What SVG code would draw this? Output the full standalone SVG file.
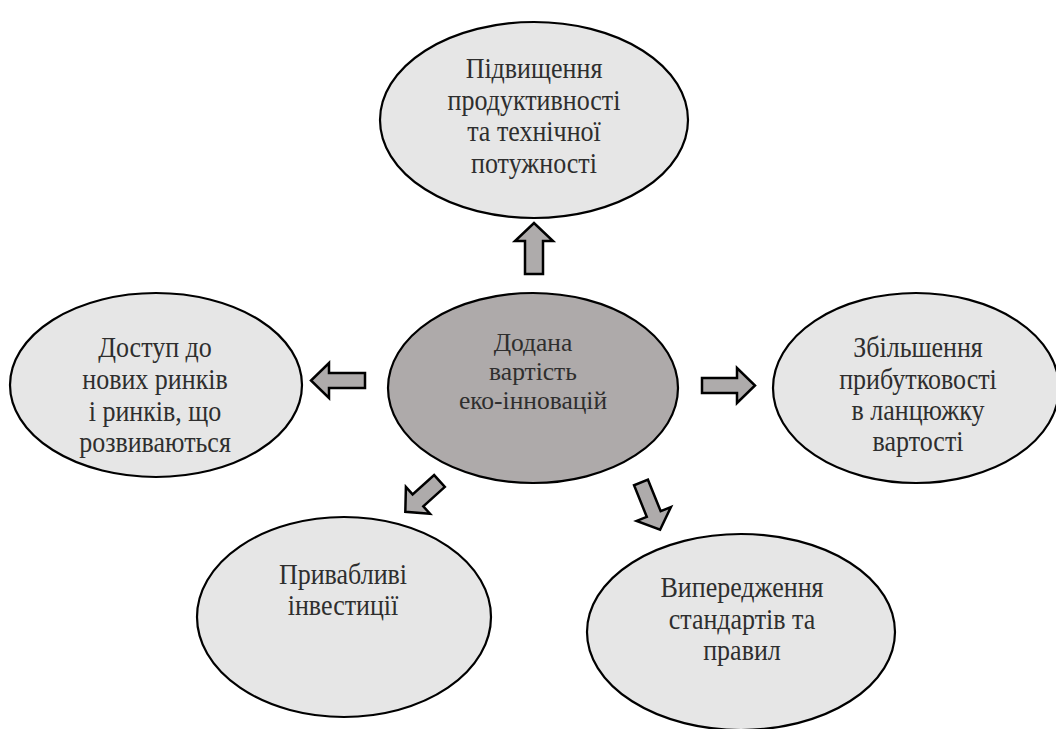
<svg xmlns="http://www.w3.org/2000/svg" width="1056" height="729" viewBox="0 0 1056 729">
<style>
.node ellipse{fill:#e6e6e6;stroke:#000;stroke-width:2.2}
#center ellipse{fill:#aeaaaa}
text{font-family:'Liberation Serif','Times New Roman',serif;font-size:26px;fill:#2e2e2e;text-anchor:middle}
#center text{font-size:25.5px}
.arrow{fill:#aeabab;stroke:#000;stroke-width:2.5;stroke-linejoin:miter}
</style>
<rect width="1056" height="729" fill="#fff"/>
<g id="connectors">
<path class="arrow" transform="translate(534,274) rotate(-90)" d="M0,-9 L33,-9 L33,-19 L51,0 L33,19 L33,9 L0,9 Z"/>
<path class="arrow" transform="translate(365,380.5) rotate(180)" d="M0,-7.5 L36,-7.5 L36,-17.5 L54,0 L36,17.5 L36,7.5 L0,7.5 Z"/>
<path class="arrow" transform="translate(702,385.5)" d="M0,-7.5 L35,-7.5 L35,-17.5 L53,0 L35,17.5 L35,7.5 L0,7.5 Z"/>
<path class="arrow" transform="translate(439.5,481) rotate(138)" d="M0,-8 L29,-8 L29,-18 L46,0 L29,18 L29,8 L0,8 Z"/>
<path class="arrow" transform="translate(641,482.5) rotate(68)" d="M0,-7.5 L34,-7.5 L34,-18.5 L51,0 L34,18.5 L34,7.5 L0,7.5 Z"/>
</g>
<g id="top" class="node">
<ellipse cx="534" cy="120" rx="154" ry="98"/>
<text transform="translate(534,78) scale(1,1.1)">Підвищення</text>
<text transform="translate(534,110) scale(1,1.1)">продуктивності</text>
<text transform="translate(534,141) scale(1,1.1)">та технічної</text>
<text transform="translate(534,173) scale(1,1.1)">потужності</text>
</g>
<g id="center" class="node">
<ellipse cx="533" cy="388" rx="145" ry="95"/>
<text x="533" y="351">Додана</text>
<text x="533" y="380">вартість</text>
<text x="533" y="409">еко-інновацій</text>
</g>
<g id="left" class="node">
<ellipse cx="156" cy="385" rx="146" ry="92"/>
<text transform="translate(155,357) scale(1,1.1)">Доступ до</text>
<text transform="translate(155,389) scale(1,1.1)">нових ринків</text>
<text transform="translate(155,421) scale(1,1.1)">і ринків, що</text>
<text transform="translate(155,452) scale(1,1.1)">розвиваються</text>
</g>
<g id="right" class="node">
<ellipse cx="916" cy="388" rx="143" ry="95"/>
<text transform="translate(918,357) scale(1,1.1)">Збільшення</text>
<text transform="translate(918,389) scale(1,1.1)">прибутковості</text>
<text transform="translate(918,420) scale(1,1.1)">в ланцюжку</text>
<text transform="translate(918,451) scale(1,1.1)">вартості</text>
</g>
<g id="bottom-left" class="node">
<ellipse cx="344" cy="617" rx="147" ry="100"/>
<text transform="translate(343,584) scale(1,1.1)">Привабливі</text>
<text transform="translate(343,615) scale(1,1.1)">інвестиції</text>
</g>
<g id="bottom-right" class="node">
<ellipse cx="741" cy="632" rx="154" ry="98"/>
<text transform="translate(742,597) scale(1,1.1)">Випередження</text>
<text transform="translate(742,629) scale(1,1.1)">стандартів та</text>
<text transform="translate(742,660) scale(1,1.1)">правил</text>
</g>
</svg>
